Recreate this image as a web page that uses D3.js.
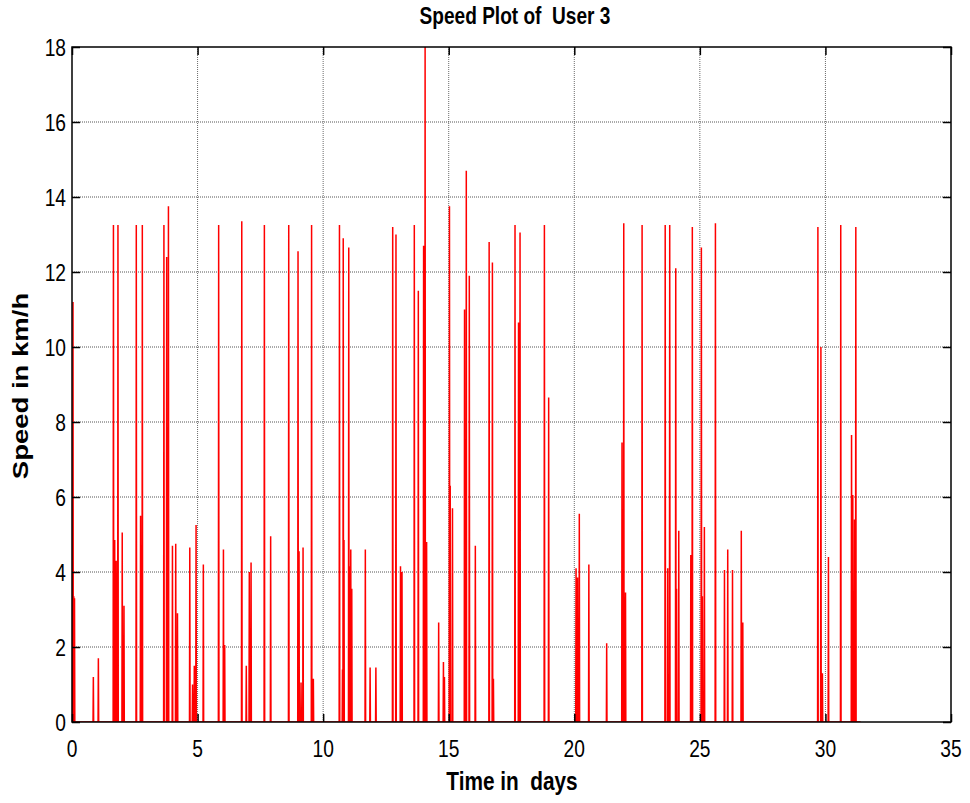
<!DOCTYPE html>
<html>
<head>
<meta charset="utf-8">
<script src="https://cdnjs.cloudflare.com/ajax/libs/d3/7.8.5/d3.min.js"></script>
<style>
  html, body { margin: 0; padding: 0; background: #fff; }
  svg { display: block; }
  text { font-family: "Liberation Sans", Arial, Helvetica, sans-serif; white-space: pre; }
</style>
</head>
<body>
<svg id="chart" width="970" height="803"></svg>
<script>
// ---- data ----
const spikeTimes = [
  0.04, 0.07, 0.10, 0.85, 1.05, 1.65, 1.70, 1.76, 1.83, 2.00, 2.07, 2.56, 2.73, 2.80,
  3.66, 3.77, 3.84, 4.00, 4.13, 4.20, 4.69, 4.80, 4.87, 4.94, 5.23, 5.84, 6.03, 6.08,
  6.76, 6.94, 7.06, 7.13, 7.66, 7.91, 8.63, 9.00, 9.04, 9.12, 9.20, 9.54, 9.61,
  10.65, 10.77, 10.80, 10.83, 11.02, 11.07, 11.10, 11.14, 11.68, 11.87, 12.10,
  12.77, 12.90, 13.08, 13.14, 13.63, 13.79, 14.00, 14.06, 14.12, 14.60, 14.79, 14.83,
  15.03, 15.06, 15.15, 15.63, 15.70, 15.82, 16.06, 16.61, 16.74, 16.78,
  17.64, 17.78, 17.84, 18.81, 18.98, 20.07, 20.13, 20.20, 20.58, 21.29,
  21.90, 21.97, 22.04, 22.70, 23.62, 23.72, 23.80, 24.04, 24.07, 24.16, 24.64, 24.70,
  25.06, 25.10, 25.18, 25.62, 25.98, 26.11, 26.30, 26.65, 26.71,
  29.70, 29.82, 29.88, 30.12, 30.61, 31.04, 31.09, 31.16, 31.21
];
const spikeSpeeds = [
  11.2, 3.35, 3.3, 1.2, 1.7, 13.25, 4.85, 4.3, 13.25, 5.05, 3.1, 13.25, 5.5, 13.25,
  13.25, 12.4, 13.75, 4.7, 4.75, 2.9, 4.65, 1.0, 1.5, 5.25, 4.2, 13.25, 4.6, 2.05,
  13.35, 1.5, 4.0, 4.25, 13.25, 4.95, 13.25, 12.55, 4.55, 1.05, 4.65, 13.25, 1.15,
  13.25, 1.4, 12.9, 4.85, 12.65, 4.15, 4.6, 3.55, 4.6, 1.45, 1.45,
  13.2, 13.0, 4.15, 4.0, 13.25, 11.5, 12.7, 18.0, 4.8, 2.65, 1.6, 1.2,
  13.75, 6.3, 5.7, 11.0, 14.7, 11.9, 4.7, 12.8, 12.25, 1.15,
  13.25, 10.65, 13.05, 13.25, 8.65, 4.1, 3.85, 5.55, 4.2, 2.1,
  7.45, 13.3, 3.45, 13.25, 13.25, 4.1, 13.25, 12.1, 3.55, 5.1, 4.45, 13.2,
  12.65, 3.35, 5.2, 13.3, 4.05, 4.6, 4.05, 5.1, 2.65,
  13.2, 10.0, 1.3, 4.4, 13.25, 7.65, 6.05, 5.4, 13.2
];
const xTicks = [0, 5, 10, 15, 20, 25, 30, 35];
const yTicks = [0, 2, 4, 6, 8, 10, 12, 14, 16, 18];
const titleText = "Speed Plot of  User 3";
const xLabelText = "Time in  days";
const yLabelText = "Speed in km/h";

// ---- layout ----
const svg = d3.select("#chart");
const pLeft = 72, pRight = 951, pTop = 47, pBottom = 722;
const x = d3.scaleLinear().domain([0, 35]).range([pLeft, pRight]);
const y = d3.scaleLinear().domain([0, 18]).range([pBottom, pTop]);
const squeeze = 0.8;

svg.append("rect").attr("width", 970).attr("height", 803).attr("fill", "#fff");

// grid (dotted, MATLAB style)
const grid = svg.append("g");
grid.selectAll("line.gx").data(xTicks.filter(d => d > 0 && d < 35)).join("line")
  .attr("x1", d => x(d)).attr("x2", d => x(d)).attr("y1", pTop).attr("y2", pBottom)
  .attr("stroke", "#6a6a6a").attr("stroke-width", 1).attr("stroke-dasharray", "1,1");
grid.selectAll("line.gy").data(yTicks.filter(d => d > 0 && d < 18)).join("line")
  .attr("y1", d => y(d)).attr("y2", d => y(d)).attr("x1", pLeft).attr("x2", pRight)
  .attr("stroke", "#555").attr("stroke-width", 1).attr("stroke-dasharray", "1,1");

// data line
svg.append("clipPath").attr("id", "clip").append("rect")
  .attr("x", pLeft).attr("y", pTop - 1).attr("width", pRight - pLeft).attr("height", pBottom - pTop + 1);
const hw = 0.012;
const pts = [[0, 0]];
spikeTimes.forEach((t, i) => {
  pts.push([t - hw, 0], [t, spikeSpeeds[i]], [t + hw, 0]);
});
pts.push([31.4, 0]);
const line = d3.line().x(d => x(d[0])).y(d => y(d[1]));
svg.append("path").datum(pts)
  .attr("clip-path", "url(#clip)")
  .attr("d", line).attr("fill", "none")
  .attr("stroke", "#ff0000").attr("stroke-width", 1.5).attr("stroke-linejoin", "miter");

// axes via d3 axis generators (inward ticks, mirrored)
const tickLen = 8;
function styleAxis(g) {
  g.select(".domain").remove();
  g.selectAll(".tick line").attr("stroke", "#000").attr("stroke-width", 1.5);
}
svg.append("g").attr("transform", `translate(0,${pBottom})`)
  .call(d3.axisBottom(x).tickValues(xTicks).tickSizeInner(-tickLen).tickSizeOuter(0).tickFormat(""))
  .call(styleAxis);
svg.append("g").attr("transform", `translate(0,${pTop})`)
  .call(d3.axisTop(x).tickValues(xTicks).tickSizeInner(-tickLen).tickSizeOuter(0).tickFormat(""))
  .call(styleAxis);
svg.append("g").attr("transform", `translate(${pLeft},0)`)
  .call(d3.axisLeft(y).tickValues(yTicks).tickSizeInner(-tickLen).tickSizeOuter(0).tickFormat(""))
  .call(styleAxis);
svg.append("g").attr("transform", `translate(${pRight},0)`)
  .call(d3.axisRight(y).tickValues(yTicks).tickSizeInner(-tickLen).tickSizeOuter(0).tickFormat(""))
  .call(styleAxis);

// box
svg.append("rect").attr("x", pLeft).attr("y", pTop).attr("width", pRight - pLeft).attr("height", pBottom - pTop)
  .attr("fill", "none").attr("stroke", "#000").attr("stroke-width", 1.5);

// tick labels
svg.append("g").selectAll("text").data(xTicks).join("text")
  .attr("transform", d => `translate(${x(d)},757) scale(${squeeze},1)`)
  .attr("text-anchor", "middle").attr("font-size", 24).attr("fill", "#000")
  .text(d => d);
svg.append("g").selectAll("text").data(yTicks).join("text")
  .attr("transform", d => `translate(66,${y(d) + 8.6}) scale(${squeeze},1)`)
  .attr("text-anchor", "end").attr("font-size", 24).attr("fill", "#000")
  .text(d => d);

// title and axis labels
svg.append("text")
  .attr("transform", `translate(515,24) scale(0.83,1)`)
  .attr("text-anchor", "middle").attr("font-size", 23).attr("font-weight", "bold")
  .text(titleText);
svg.append("text")
  .attr("transform", `translate(512,790) scale(${squeeze},1)`)
  .attr("text-anchor", "middle").attr("font-size", 26).attr("font-weight", "bold")
  .text(xLabelText);
svg.append("text")
  .attr("transform", `translate(28,386) rotate(-90) scale(1,${squeeze})`)
  .attr("text-anchor", "middle").attr("font-size", 27.5).attr("font-weight", "bold")
  .text(yLabelText);
</script>
</body>
</html>
